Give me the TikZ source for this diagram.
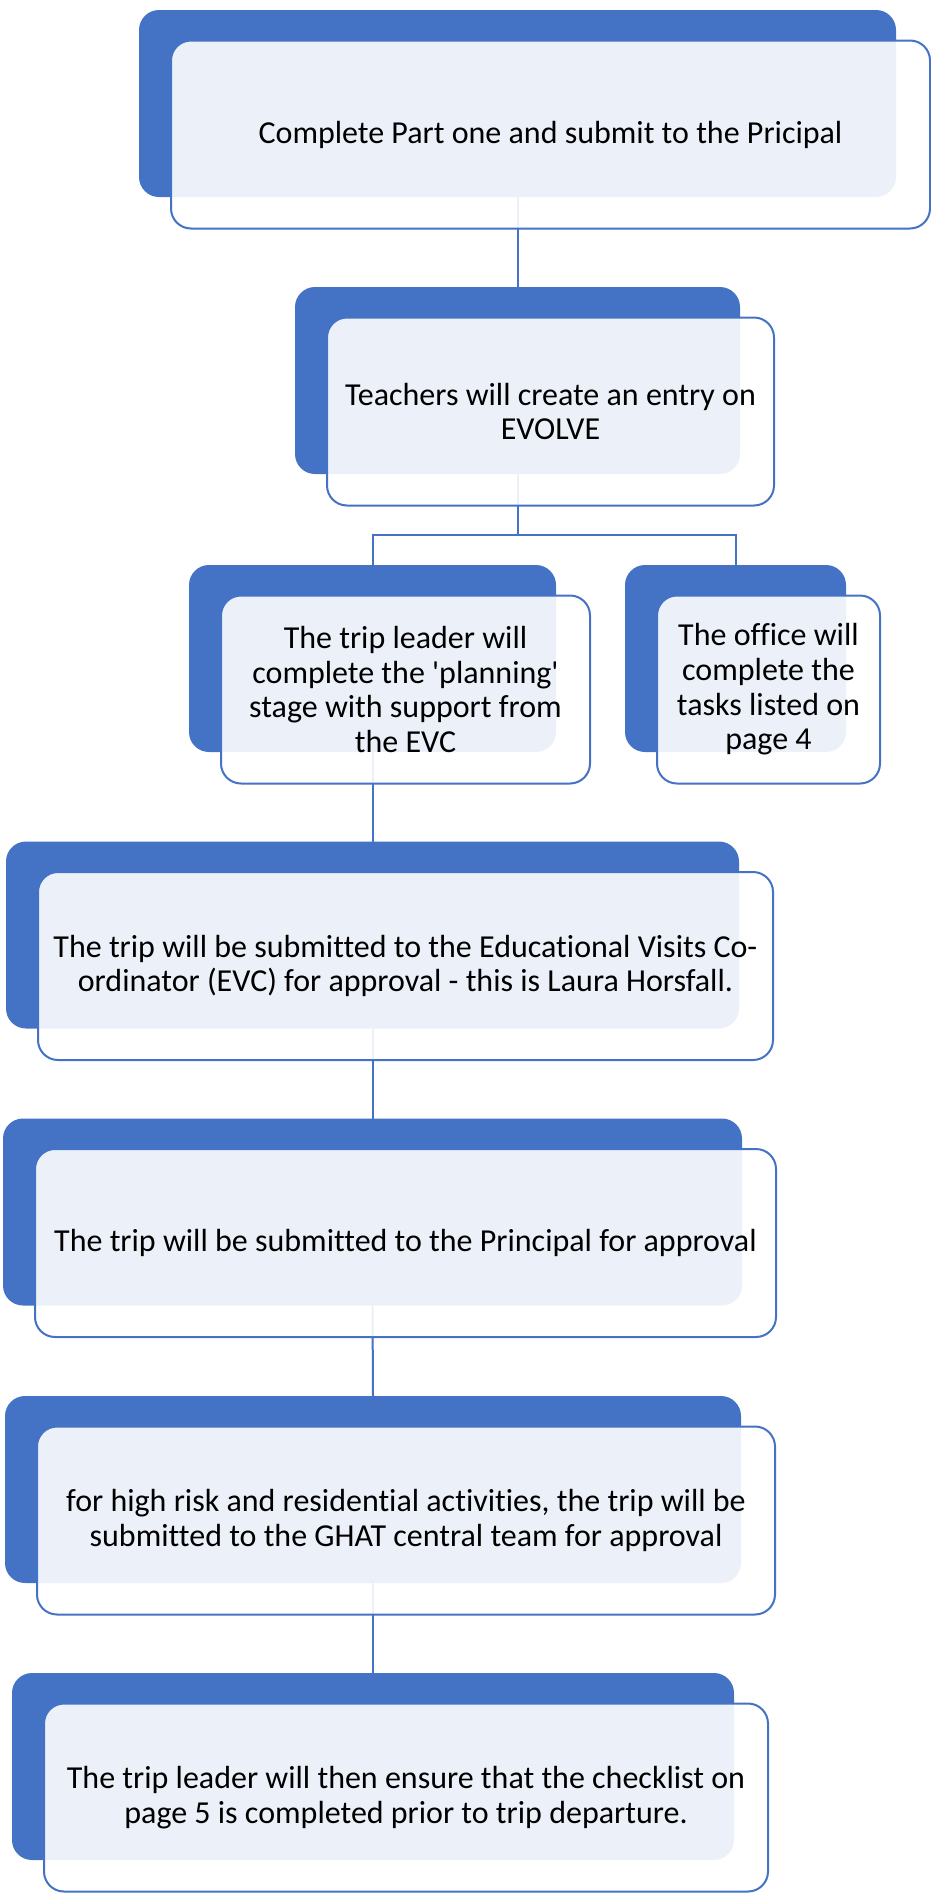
\documentclass[tikz,border=0pt]{standalone}
\usepackage{fontspec}
\setmainfont{Carlito}[Ligatures={NoCommon}]
\usetikzlibrary{backgrounds}
\definecolor{evoblue}{HTML}{4472C4}
\newcommand{\pxu}{0.75pt}

\begin{document}
\begin{tikzpicture}[x=0.75pt,y=-0.75pt,
    backbox/.style={fill=evoblue, rounded corners=15pt, inner sep=0pt, outer sep=0pt, minimum height=187*\pxu},
    frontbox/.style={draw=evoblue, line width=1.5pt, fill=white, fill opacity=0.9, text opacity=1,
      rounded corners=15pt, inner sep=0pt, minimum height=188*\pxu, align=center,
      font=\fontsize{24}{26}\selectfont},
    link/.style={draw=evoblue, line width=1.5pt}]
    \useasboundingbox (0,0) rectangle (931,1899);
    % Step 1
    \node[backbox, minimum width=757*\pxu] (d1) at (517.5,103.5) {};
    \node[frontbox, minimum width=759*\pxu] (f1) at ([shift={(33,31)}]d1.center) {Complete Part one and submit to the Pricipal};
    % Step 2
    \node[backbox, minimum width=445*\pxu] (d2) at (517.5,380.5) {};
    \node[frontbox, minimum width=447*\pxu] (f2) at ([shift={(33,31)}]d2.center) {Teachers will create an entry on\\EVOLVE};
    % Step 3 (two branches)
    \node[backbox, minimum width=367*\pxu] (d3a) at (372.5,658.5) {};
    \node[frontbox, minimum width=369*\pxu] (f3a) at ([shift={(33,31)}]d3a.center) {The trip leader will\\complete the \textquotesingle planning\textquotesingle\\stage with support from\\the EVC};
    \node[backbox, minimum width=221*\pxu] (d3b) at (735.5,658.5) {};
    \node[frontbox, minimum width=223*\pxu] (f3b) at ([shift={(33,31)}]d3b.center) {The office will\\complete the\\tasks listed on\\page 4};
    % Step 4
    \node[backbox, minimum width=733*\pxu] (d4) at (372.5,935) {};
    \node[frontbox, minimum width=735*\pxu] (f4) at ([shift={(33,31)}]d4.center) {The trip will be submitted to the Educational Visits Co-\\ordinator (EVC) for approval - this is Laura Horsfall.};
    % Step 5
    \node[backbox, minimum width=739*\pxu] (d5) at (372.5,1212) {};
    \node[frontbox, minimum width=741*\pxu] (f5) at ([shift={(33,31)}]d5.center) {The trip will be submitted to the Principal for approval};
    % Step 6
    \node[backbox, minimum width=736*\pxu] (d6) at (373,1489.5) {};
    \node[frontbox, minimum width=738*\pxu] (f6) at ([shift={(33,31)}]d6.center) {for high risk and residential activities, the trip will be\\submitted to the GHAT central team for approval};
    % Step 7
    \node[backbox, minimum width=722*\pxu] (d7) at (373,1766.5) {};
    \node[frontbox, minimum width=724*\pxu] (f7) at ([shift={(33,31)}]d7.center) {The trip leader will then ensure that the checklist on\\page 5 is completed prior to trip departure.};
    % Connectors
    \begin{scope}[on background layer]
        \coordinate (fork) at (517.5,535);
        \draw[link] (d1.south) -- (d2.north);
        \draw[link] (d2.south) -- (fork);
        \draw[link] (d3a.north) |- (fork) -| (d3b.north);
        \draw[link] (d3a.south) -- (d4.north);
        \draw[link] (d4.south) -- (d5.north);
        \draw[link] (d5.south) -- (d6.north);
        \draw[link] (d6.south) -- (d7.north);
    \end{scope}
\end{tikzpicture}
\end{document}
